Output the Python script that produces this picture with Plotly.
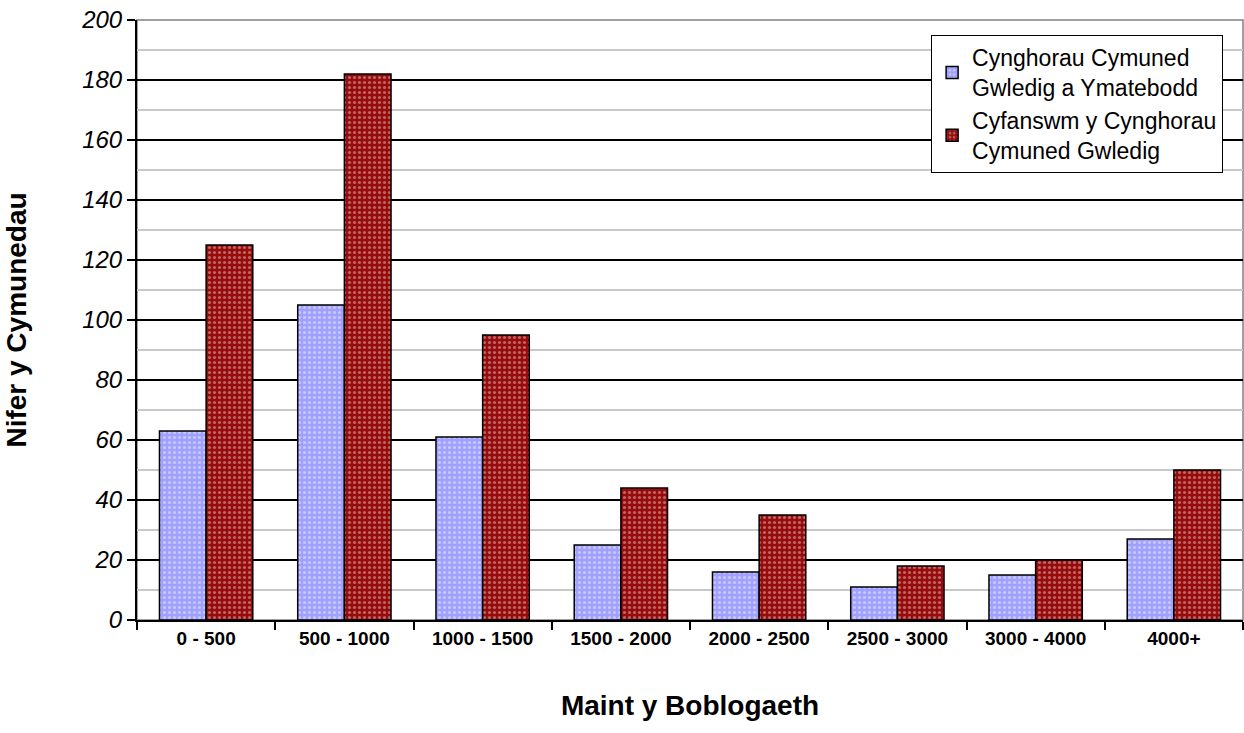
import plotly.graph_objects as go

categories = ["0 - 500", "500 - 1000", "1000 - 1500", "1500 - 2000",
              "2000 - 2500", "2500 - 3000", "3000 - 4000", "4000+"]
ymatebodd = [63, 105, 61, 25, 16, 11, 15, 27]
cyfanswm = [125, 182, 95, 44, 35, 18, 20, 50]

FONT = "Liberation Sans, Arial, sans-serif"

fig = go.Figure()
fig.add_trace(go.Bar(
    x=categories, y=ymatebodd,
    name="Cynghorau Cymuned<br>Gwledig a Ymatebodd",
    marker=dict(color="#a3a3ff", line=dict(color="black", width=1.5),
                pattern=dict(shape=".", fgcolor="#eeeeff", bgcolor="#a0a0ff",
                             size=5, solidity=0.3)),
))
fig.add_trace(go.Bar(
    x=categories, y=cyfanswm,
    name="Cyfanswm y Cynghorau<br>Cymuned Gwledig",
    marker=dict(color="#9a1414", line=dict(color="black", width=1.5),
                pattern=dict(shape=".", fgcolor="#e8c0c0", bgcolor="#960c0c",
                             size=5, solidity=0.3)),
))

fig.update_layout(
    width=1244, height=733,
    margin=dict(l=137, r=1, t=20, b=113),
    paper_bgcolor="white", plot_bgcolor="white",
    font=dict(family=FONT, color="black"),
    barmode="group", bargap=0.325, bargroupgap=0,
    showlegend=True,
    legend=dict(x=0.718, y=0.975, xanchor="left", yanchor="top",
                bgcolor="white", bordercolor="black", borderwidth=1,
                font=dict(size=23, family=FONT), tracegroupgap=0,
                itemwidth=30),
    xaxis=dict(
        title=dict(text="<b>Maint y Boblogaeth</b>", font=dict(size=28), standoff=48),
        tickfont=dict(size=19, family=FONT, weight="bold"),
        showline=True, linecolor="black", linewidth=2,
        ticks="outside", ticklen=8, tickwidth=2, tickcolor="black",
        tickson="boundaries", showgrid=False, automargin=False,
    ),
    yaxis=dict(
        title=dict(text="<b>Nifer y Cymunedau</b>", font=dict(size=28), standoff=46),
        range=[0, 200], dtick=20,
        tickfont=dict(size=24, family=FONT, style="italic"),
        ticklabeloverflow="allow", automargin=False,
        showline=True, linecolor="black", linewidth=2,
        ticks="outside", ticklen=8, tickwidth=2, tickcolor="black",
        showgrid=True, gridcolor="black", gridwidth=1.5,
        minor=dict(dtick=10, showgrid=True, gridcolor="#c8c8c8", gridwidth=1.5),
        zeroline=False,
    ),
    shapes=[dict(type="rect", xref="paper", yref="paper", x0=0, x1=1, y0=0, y1=1,
                 line=dict(color="#808080", width=1.5), layer="below")],
)

# drop the browser's default 8px body margin so the figure fills the window
fig.write_html("out.html", config={"displayModeBar": False},
               post_script="document.body.style.margin='0';")
